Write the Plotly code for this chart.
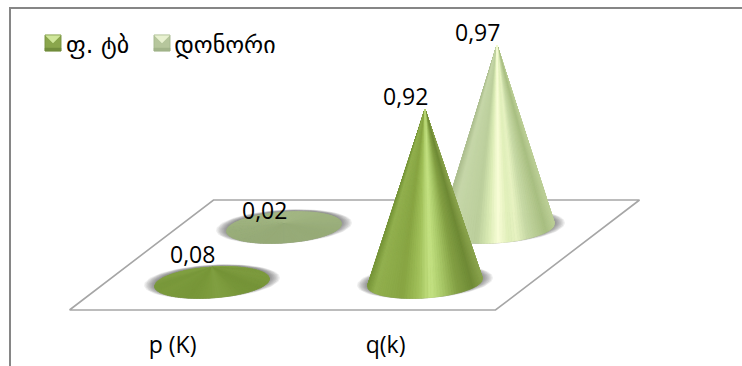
import numpy as np
import plotly.graph_objects as go

# Chart data
categories = ["p (K)", "q(k)"]
series_names = ["ფ. ტბ", "დონორი"]
values_front = [0.08, 0.92]
values_back = [0.02, 0.97]

# Pixel scales of the oblique floor projection
WIDTH, HEIGHT = 742, 366
BOTTOM = 44
PLOT_H = HEIGHT - BOTTOM
PX_PER_CAT = 213.0
PX_PER_VALUE = 188.0
ZERO_X_PX = 176.0
ZERO_Y_PX = 310.0
DEPTH_X = 144.0 / PX_PER_CAT
DEPTH_Y = 110.0 / PX_PER_VALUE
R_X = 57.5 / PX_PER_CAT
R_Y = 15.5 / PX_PER_VALUE
TILT = 0.065 * 57.5 / PX_PER_VALUE

# Shading across a cone, keyed by horizontal position from -1 to 1
front_ramp = [(-1, "#78963a"), (-0.88, "#93b150"), (-0.4, "#88a543"), (-0.1, "#a3c25c"),
              (0.1, "#c6e485"), (0.32, "#a8c767"), (0.55, "#84a145"), (0.82, "#6f8a36"), (1, "#8ba44e")]
back_ramp = [(-1, "#aebf90"), (-0.85, "#c6d7a9"), (-0.35, "#bccf9c"), (-0.14, "#dcecb6"),
             (0.02, "#f8fdd6"), (0.2, "#e0efb9"), (0.34, "#e8f3c2"), (0.52, "#c8daa6"),
             (0.85, "#a9bf82"), (1, "#bdd098")]
front_flat = "#7a993c"
back_flat = "#9aae7b"


def to_rgb(h):
    return np.array([int(h[i:i + 2], 16) for i in (1, 3, 5)], dtype=float)


def shade(ramp, flat, s, value, t):
    pos = [p for p, _ in ramp]
    rgb = np.array([np.interp(s, pos, [to_rgb(c)[k] for _, c in ramp]) for k in range(3)])
    weight = min(1.0, value / 0.5)
    low = to_rgb(flat) + 6 * np.sin(t)
    mix = weight * rgb + (1 - weight) * low
    return "rgb(%d,%d,%d)" % tuple(np.clip(mix, 0, 255))


def project(cat, depth):
    return cat + depth * DEPTH_X, depth * DEPTH_Y


def ellipse(cx, cy, sx=1.0, sy=1.0, n=90):
    t = np.linspace(0, 2 * np.pi, n)
    x = cx + sx * R_X * np.cos(t)
    y = cy + sy * R_Y * np.sin(t) + TILT * np.cos(t)
    return x, y


fig = go.Figure()


def poly(x, y, fill, line=None, width=0):
    fig.add_trace(go.Scatter(
        x=list(x), y=list(y), mode="lines", fill="toself", fillcolor=fill,
        line=dict(color=line or fill, width=width), hoverinfo="skip", showlegend=False))


def draw_cone(cat, depth, value, ramp, flat):
    cx, cy = project(cat, depth)
    # soft contact shadow around the base
    for k in range(9):
        f = k / 8
        poly(*ellipse(cx, cy + 1.0 / PX_PER_VALUE, 1 + 0.18 * (1 - f), 1 + 0.09 * (1 - f)),
             "rgba(70,70,70,0.09)")
    # base disc
    poly(*ellipse(cx, cy), flat, "#9a9a9a", 0.6)
    # surface strips, far side first
    edges = np.linspace(0, 2 * np.pi, 121)
    mids = (edges[:-1] + edges[1:]) / 2
    for i in np.argsort(-np.sin(mids)):
        t0, t1 = edges[i], edges[i + 1]
        xs = [cx, cx + R_X * np.cos(t0), cx + R_X * np.cos(t1)]
        ys = [cy + value,
              cy + R_Y * np.sin(t0) + TILT * np.cos(t0),
              cy + R_Y * np.sin(t1) + TILT * np.cos(t1)]
        color = shade(ramp, flat, np.cos(mids[i]), value, mids[i])
        poly(xs + xs[:1], ys + ys[:1], color, color, 0.7)


# Floor
corners = [project(-0.5, 0), project(1.5, 0), project(1.5, 1), project(-0.5, 1), project(-0.5, 0)]
fig.add_trace(go.Scatter(
    x=[c[0] for c in corners], y=[c[1] for c in corners], mode="lines",
    line=dict(color="#a6a6a6", width=1.6), hoverinfo="skip", showlegend=False))

# Back row first so the front row overlaps it
for i, v in enumerate(values_back):
    draw_cone(i, 0.75, v, back_ramp, back_flat)
for i, v in enumerate(values_front):
    draw_cone(i, 0.25, v, front_ramp, front_flat)

# Legend entries: the text comes from the legend, the bevelled keys are layout shapes
for name in series_names:
    fig.add_trace(go.Scatter(
        x=[None], y=[None], mode="markers", name=name,
        marker=dict(symbol="square", size=1, color="rgba(0,0,0,0)")))


def bevel_key(left_px, top_px, size, light, mid, dark, edge):
    """Small bevelled legend key built from paper-anchored paths."""
    def px(x, y):
        return f"{x / WIDTH:.5f} {1 - y / PLOT_H:.5f}"

    l, t, r, b = left_px, top_px, left_px + size, top_px + size
    cx, cy = (l + r) / 2, t + size * 0.5
    faces = [
        ([(l, t), (r, t), (r, b), (l, b)], mid),
        ([(l, b - 3), (r, b - 3), (r, b), (l, b)], dark),
        ([(l, t), (r, t), (cx, cy)], light),
    ]
    shapes = []
    for pts, color in faces:
        path = "M " + " L ".join(px(*p) for p in pts) + " Z"
        shapes.append(dict(type="path", xref="paper", yref="paper", path=path,
                           fillcolor=color, line=dict(color=color, width=0.5), layer="above"))
    outline = "M " + " L ".join(px(*p) for p in [(l, t), (r, t), (r, b), (l, b)]) + " Z"
    shapes.append(dict(type="path", xref="paper", yref="paper", path=outline,
                       line=dict(color=edge, width=0.6), layer="above"))
    return shapes


# Value labels beside each apex
annotations = []
for depth, vals in ((0.25, values_front), (0.75, values_back)):
    for i, v in enumerate(vals):
        cx, cy = project(i, depth)
        annotations.append(dict(
            x=cx, y=cy + v, xref="x", yref="y", text=f"{v:.2f}".replace(".", ","),
            showarrow=False, xshift=-20, yshift=13.5, xanchor="center", yanchor="middle",
            font=dict(family="Open Sans", size=23, color="#000000")))

frame = dict(type="rect", xref="paper", yref="paper", x0=10 / WIDTH, x1=1.02,
             y0=-0.3, y1=1 - 8 / PLOT_H, line=dict(color="#868686", width=2), layer="below")

fig.update_layout(
    width=WIDTH, height=HEIGHT,
    margin=dict(l=0, r=0, t=0, b=BOTTOM),
    paper_bgcolor="#ffffff", plot_bgcolor="#ffffff",
    annotations=annotations,
    shapes=[frame]
    + bevel_key(45, 35, 16, "#cfe69a", "#8aa64c", "#728d3c", "#6f8a3a")
    + bevel_key(154, 35, 16, "#e8f1d0", "#b6c69c", "#a3b48a", "#a0b186"),
    legend=dict(orientation="h", x=26 / WIDTH, y=1 - 22 / PLOT_H,
                xanchor="left", yanchor="top", bgcolor="rgba(0,0,0,0)",
                itemwidth=30,
                font=dict(family="DejaVu Sans", size=24, color="#000000")),
    xaxis=dict(range=[-ZERO_X_PX / PX_PER_CAT, (WIDTH - ZERO_X_PX) / PX_PER_CAT],
               tickvals=[i - 0.016 for i in range(len(categories))], ticktext=categories,
               showgrid=False, zeroline=False, showline=False, ticks="",
               ticklabelstandoff=7,
               tickfont=dict(family="Open Sans", size=23, color="#000000")),
    yaxis=dict(range=[-(PLOT_H - ZERO_Y_PX) / PX_PER_VALUE, ZERO_Y_PX / PX_PER_VALUE],
               showgrid=False, zeroline=False, showline=False, showticklabels=False),
)

fig.write_html("out.html")
